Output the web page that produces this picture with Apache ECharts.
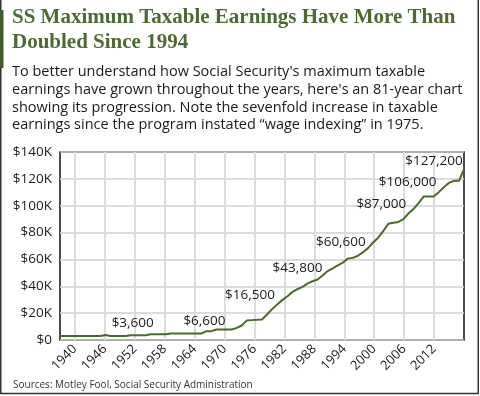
<!DOCTYPE html>
<html>
<head>
<meta charset="utf-8">
<script src="https://cdn.jsdelivr.net/npm/echarts@6/dist/echarts.min.js"></script>
<style>
html,body{margin:0;padding:0;background:#fff;}
#c{width:480px;height:396px;}
</style>
</head>
<body>
<div id="c"></div>
<script>
// ---- data ----
const years = [];
for (let y = 1937; y <= 2017; y++) years.push(String(y));
const gridYears = [];
for (let y = 1937; y <= 2018; y++) gridYears.push(String(y));

const maxEarnings = [
  3000, 3000, 3000, 3000, 3000, 3000, 3000, 3000, 3000, 3800, 3000, 3000, 3000, 3000, // 1937-1950
  3600, 3600, 3600, 3600,                       // 1951-1954
  4200, 4200, 4200, 4200,                       // 1955-1958
  4800, 4800, 4800, 4800, 4800, 4800, 4800,     // 1959-1965
  6600, 6600,                                   // 1966-1967
  7800, 7800, 7800, 7800,                       // 1968-1971
  9000, 10800,                                  // 1972-1973
  14600, 14800, 15000, 15300,                   // 1974-1977
  19000, 23000, 26500, 29700, 32400, 35700, 37800, 39600, 42000, 43800, // 1978-1987
  45000, 48000, 51300, 53400, 55500, 57600, 60600, 61200, 62700, 65400, // 1988-1997
  68400, 72600, 76200, 81000, 86500, 87300, 87900, 90000, 94200, 97500, // 1998-2007
  102000, 106800, 106800, 106800, 110100, 113700, 117000, 118500, 118500, 127200 // 2008-2017
];

const annoYears = ['1951', '1966', '1977', '1987', '1994', '2003', '2009', '2017'];
const annoTexts = ['$3,600', '$6,600', '$16,500', '$43,800', '$60,600', '$87,000', '$106,000', '$127,200'];
// label placement (pixels, relative to default "top" position)
const annoOffsets = [[2, 0], [-2, 3], [-12, -12], [-15, -1], [-7, -4], [-12, -6], [-16, -2], [-30, 4]];

const yTicks = [0, 20000, 40000, 60000, 80000, 100000, 120000, 140000];

// ---- chart ----
const GREEN = '#4b6b32';
const FONT = '"Open Sans", "Noto Sans", sans-serif';

const annoData = annoYears.map((yr, k) => {
  const i = years.indexOf(yr);
  return {
    value: [yr, maxEarnings[i]],
    label: {
      show: true,
      position: 'top',
      distance: 5,
      formatter: annoTexts[k],
      fontFamily: FONT,
      fontSize: 13.5,
      color: '#1a1a1a'
    }
  };
});

const chart = echarts.init(document.getElementById('c'), null, { renderer: 'canvas' });
chart.setOption({
  animation: false,
  backgroundColor: '#fff',
  title: [
    {
      text: 'SS Maximum Taxable Earnings Have More Than\nDoubled Since 1994',
      left: 12, top: 5, padding: 0,
      textStyle: {
        fontFamily: '"Liberation Serif", "DejaVu Serif", serif',
        fontWeight: 'bold', fontSize: 21, lineHeight: 25, color: GREEN
      }
    },
    {
      text: "To better understand how Social Security's maximum taxable\nearnings have grown throughout the years, here's an 81-year chart\nshowing its progression. Note the sevenfold increase in taxable\nearnings since the program instated \u201cwage indexing\u201d in 1975.",
      left: 12, top: 63, padding: 0,
      textStyle: {
        fontFamily: FONT, fontWeight: 'normal', fontSize: 14.5, lineHeight: 17.8, color: '#1a1a1a'
      }
    },
    {
      text: 'Sources: Motley Fool, Social Security Administration',
      left: 13, top: 380, padding: 0,
      textStyle: { fontFamily: FONT, fontWeight: 'normal', fontSize: 10, color: '#333' }
    }
  ],
  graphic: [
    { type: 'rect', shape: { x: 0.75, y: -3, width: 477.5, height: 396.5 },
      style: { fill: 'none', stroke: '#333', lineWidth: 1.5 }, silent: true },
    { type: 'rect', shape: { x: 0, y: 10, width: 3.5, height: 58 },
      style: { fill: '#3f5b2a' }, silent: true }
  ],
  grid: {
    left: 60, right: 16, top: 152, bottom: 56,
    show: true, borderColor: '#111', borderWidth: 1.5, backgroundColor: 'transparent'
  },
  xAxis: [
    {
      type: 'category', data: years, boundaryGap: false, position: 'bottom',
      show: false
    },
    {
      type: 'category', data: gridYears, boundaryGap: false, position: 'bottom',
      axisLine: { show: false }, axisTick: { show: false },
      axisLabel: {
        interval: (idx, val) => (Number(val) - 1940) % 6 === 0 && Number(val) <= 2012,
        rotate: 45, margin: 7,
        fontFamily: FONT, fontSize: 13, color: '#1a1a1a'
      },
      splitLine: {
        show: true,
        interval: (idx, val) => (Number(val) - 1940) % 6 === 0 && Number(val) <= 2012,
        lineStyle: { color: '#dcdcdc', width: 2 }
      }
    }
  ],
  yAxis: {
    type: 'value', min: yTicks[0], max: yTicks[yTicks.length - 1], interval: 20000,
    axisLine: { show: false }, axisTick: { show: false },
    axisLabel: {
      margin: 8, fontFamily: FONT, fontSize: 13.5, color: '#1a1a1a',
      formatter: v => v === 0 ? '$0' : '$' + (v / 1000) + 'K'
    },
    splitLine: { lineStyle: { color: '#d0d0d0', width: 1.5 } }
  },
  series: [
    {
      type: 'line', xAxisIndex: 0, data: maxEarnings,
      showSymbol: false, symbol: 'none',
      lineStyle: { color: '#4a6a2c', width: 2 },
      z: 5
    },
    {
      type: 'scatter', xAxisIndex: 0, data: annoData,
      symbolSize: 1, itemStyle: { color: 'rgba(0,0,0,0)', opacity: 1 },
      labelLayout: p => ({
        dx: annoOffsets[p.dataIndex][0],
        dy: annoOffsets[p.dataIndex][1],
        hideOverlap: false
      }),
      silent: true, z: 6
    }
  ]
});
</script>
</body>
</html>
